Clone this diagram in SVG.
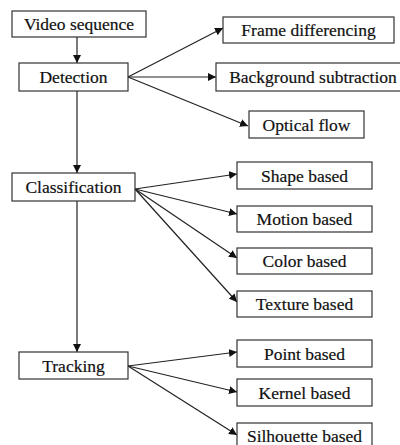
<svg xmlns="http://www.w3.org/2000/svg" width="400" height="445" viewBox="0 0 400 445">
<defs>
<marker id="ah" viewBox="0 0 10 10" refX="10" refY="5" markerWidth="8" markerHeight="8" markerUnits="userSpaceOnUse" orient="auto">
<path d="M0,0 L10,5 L0,10 z" fill="#111"/>
</marker>
<style>
rect{fill:#fff;stroke:#333;stroke-width:1.2}
text{font-family:'Liberation Serif','Times New Roman',serif;font-size:17.5px;fill:#111;stroke:#111;stroke-width:0.2;text-anchor:middle}
#connectors line{stroke:#222;stroke-width:1.2;marker-end:url(#ah)}
</style>
</defs>
<rect x="0" y="0" width="400" height="445" style="fill:#fff;stroke:none"/>
<g id="connectors">
<line x1="77" y1="37" x2="77" y2="63"/>
<line x1="77" y1="91" x2="77" y2="173"/>
<line x1="77" y1="201" x2="77" y2="352"/>
<line x1="128" y1="77" x2="223" y2="28"/>
<line x1="128" y1="77" x2="216" y2="77"/>
<line x1="128" y1="77" x2="248" y2="126"/>
<line x1="135" y1="189" x2="237" y2="174"/>
<line x1="135" y1="189" x2="237" y2="214"/>
<line x1="135" y1="189" x2="237" y2="258"/>
<line x1="135" y1="189" x2="237" y2="302"/>
<line x1="128" y1="366" x2="237" y2="352"/>
<line x1="128" y1="366" x2="237" y2="392"/>
<line x1="128" y1="366" x2="237" y2="435"/>
</g>
<g font-family="Liberation Serif, serif">
<g id="video"><rect x="12" y="11" width="134" height="26"/><text x="79" y="30">Video sequence</text></g>
<g id="detection"><rect x="19" y="63" width="109" height="28"/><text x="73.5" y="83">Detection</text></g>
<g id="classification"><rect x="12" y="173" width="123" height="28"/><text x="73.5" y="193">Classification</text></g>
<g id="tracking"><rect x="19" y="352" width="109" height="27"/><text x="73.5" y="371.5">Tracking</text></g>
<g id="frame"><rect x="223" y="17" width="171" height="26"/><text x="308.5" y="36">Frame differencing</text></g>
<g id="background"><rect x="216" y="63" width="186" height="28"/><text x="313" y="83">Background subtraction</text></g>
<g id="optical"><rect x="249" y="111" width="115" height="27"/><text x="306.5" y="130.5">Optical flow</text></g>
<g id="shape"><rect x="237" y="162" width="135" height="27"/><text x="304.5" y="181.5">Shape based</text></g>
<g id="motion"><rect x="237" y="206" width="135" height="26"/><text x="304.5" y="225">Motion based</text></g>
<g id="color"><rect x="237" y="248" width="135" height="26"/><text x="304.5" y="267">Color based</text></g>
<g id="texture"><rect x="237" y="291" width="135" height="26"/><text x="304.5" y="310">Texture based</text></g>
<g id="point"><rect x="237" y="340" width="135" height="27"/><text x="304.5" y="359.5">Point based</text></g>
<g id="kernel"><rect x="237" y="379" width="135" height="27"/><text x="304.5" y="398.5">Kernel based</text></g>
<g id="silhouette"><rect x="237" y="423" width="135" height="27"/><text x="304.5" y="442">Silhouette based</text></g>
</g>
</svg>
